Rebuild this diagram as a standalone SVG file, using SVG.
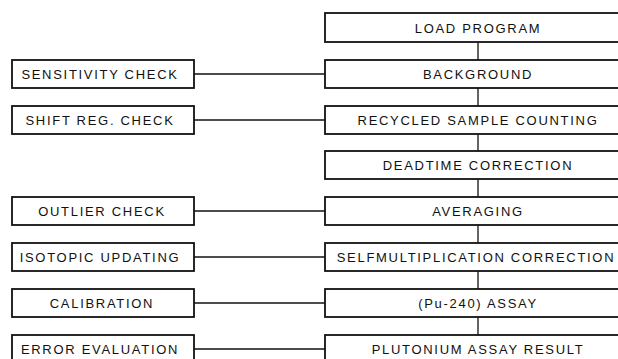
<svg xmlns="http://www.w3.org/2000/svg" width="618" height="359" viewBox="0 0 618 359">
  <style>
    .box { fill: #ffffff; stroke: #111111; stroke-width: 1.8; }
    .lbl { font-family: "Liberation Sans", Arial, sans-serif; font-size: 13px; letter-spacing: 1.7px; fill: #111111; text-anchor: middle; }
    .link { stroke: #111111; stroke-width: 1.3; fill: none; }
  </style>
  <rect width="618" height="359" fill="#ffffff"/>

  <!-- connectors -->
  <g id="connectors">
    <!-- main flow spine -->
    <line class="link" x1="478" y1="42" x2="478" y2="60"/>
    <line class="link" x1="478" y1="88" x2="478" y2="106"/>
    <line class="link" x1="478" y1="134" x2="478" y2="151"/>
    <line class="link" x1="478" y1="179" x2="478" y2="197"/>
    <line class="link" x1="478" y1="225" x2="478" y2="243"/>
    <line class="link" x1="478" y1="271" x2="478" y2="289"/>
    <line class="link" x1="478" y1="317" x2="478" y2="335"/>
    <!-- side checks -->
    <line class="link" x1="194" y1="74" x2="325" y2="74"/>
    <line class="link" x1="194" y1="120" x2="325" y2="120"/>
    <line class="link" x1="194" y1="211" x2="325" y2="211"/>
    <line class="link" x1="194" y1="257" x2="325" y2="257"/>
    <line class="link" x1="194" y1="303" x2="325" y2="303"/>
    <line class="link" x1="194" y1="349" x2="325" y2="349"/>
  </g>

  <!-- main sequence -->
  <g id="load-program">
    <rect class="box" x="325" y="13" width="306" height="29"/>
    <text class="lbl" x="478" y="33">LOAD PROGRAM</text>
  </g>
  <g id="background">
    <rect class="box" x="325" y="60" width="306" height="28"/>
    <text class="lbl" x="478" y="79">BACKGROUND</text>
  </g>
  <g id="recycled-sample-counting">
    <rect class="box" x="325" y="106" width="306" height="28"/>
    <text class="lbl" x="478" y="125">RECYCLED SAMPLE COUNTING</text>
  </g>
  <g id="deadtime-correction">
    <rect class="box" x="325" y="151" width="306" height="28"/>
    <text class="lbl" x="478" y="170">DEADTIME CORRECTION</text>
  </g>
  <g id="averaging">
    <rect class="box" x="325" y="197" width="306" height="28"/>
    <text class="lbl" x="478" y="216">AVERAGING</text>
  </g>
  <g id="selfmultiplication-correction">
    <rect class="box" x="325" y="243" width="306" height="28"/>
    <text class="lbl" x="476" y="262">SELFMULTIPLICATION CORRECTION</text>
  </g>
  <g id="pu240-assay">
    <rect class="box" x="325" y="289" width="306" height="28"/>
    <text class="lbl" x="478" y="308">(Pu-240) ASSAY</text>
  </g>
  <g id="plutonium-assay-result">
    <rect class="box" x="325" y="335" width="306" height="28"/>
    <text class="lbl" x="478" y="354">PLUTONIUM ASSAY RESULT</text>
  </g>

  <!-- side checks -->
  <g id="sensitivity-check">
    <rect class="box" x="12" y="60" width="182" height="28"/>
    <text class="lbl" x="100" y="79">SENSITIVITY CHECK</text>
  </g>
  <g id="shift-reg-check">
    <rect class="box" x="12" y="106" width="182" height="28"/>
    <text class="lbl" x="100" y="125">SHIFT REG. CHECK</text>
  </g>
  <g id="outlier-check">
    <rect class="box" x="12" y="197" width="182" height="28"/>
    <text class="lbl" x="102" y="216">OUTLIER CHECK</text>
  </g>
  <g id="isotopic-updating">
    <rect class="box" x="12" y="243" width="182" height="28"/>
    <text class="lbl" x="100" y="262">ISOTOPIC UPDATING</text>
  </g>
  <g id="calibration">
    <rect class="box" x="12" y="289" width="182" height="28"/>
    <text class="lbl" x="102" y="308">CALIBRATION</text>
  </g>
  <g id="error-evaluation">
    <rect class="box" x="12" y="335" width="182" height="28"/>
    <text class="lbl" x="100" y="354">ERROR EVALUATION</text>
  </g>
</svg>
